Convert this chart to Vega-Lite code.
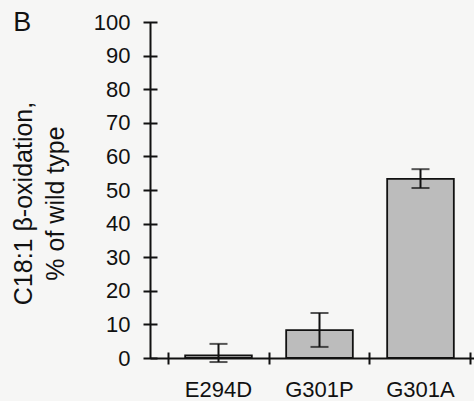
{
  "$schema": "https://vega.github.io/schema/vega-lite/v6.json",
  "autosize": {"type": "none"},
  "padding": {"left": 150, "top": 22, "right": 0, "bottom": 43},
  "width": 324,
  "height": 336,
  "background": "#f6f6f5",
  "title": {"text": "B", "anchor": "start", "frame": "bounds", "fontSize": 27, "font": "Liberation Sans", "fontWeight": "normal", "color": "#111", "baseline": "alphabetic", "offset": -47, "dx": 2},
  "config": {
    "view": {"stroke": null},
    "axis": {"grid": false, "domainColor": "#111", "tickColor": "#111", "labelColor": "#111", "titleColor": "#111", "labelFont": "Liberation Sans", "titleFont": "Liberation Sans", "domainWidth": 2, "tickWidth": 2}
  },
  "data": {"values": [
    {"mutant": "E294D", "value": 0.8, "lower": -1.2, "upper": 4.2},
    {"mutant": "G301P", "value": 8.3, "lower": 3.3, "upper": 13.4},
    {"mutant": "G301A", "value": 53.3, "lower": 50.6, "upper": 56.2}
  ]},
  "resolve": {"axis": {"x": "independent", "y": "independent"}},
  "layer": [
    {
      "mark": {"type": "bar", "width": {"band": 0.66}, "fill": "#bcbcbc", "stroke": "#111", "strokeWidth": 1.8},
      "encoding": {
        "x": {"field": "mutant", "type": "nominal", "sort": null,
              "scale": {"paddingInner": 0, "paddingOuter": 0.104, "align": 0.857},
              "axis": {"orient": "bottom", "title": null, "ticks": false, "labelAngle": 0, "labelFontSize": 22, "labelPadding": 21}},
        "y": {"field": "value", "type": "quantitative", "scale": {"domain": [0, 100], "nice": false},
              "axis": {"orient": "left", "values": [0,10,20,30,40,50,60,70,80,90,100], "ticks": false, "labelFontSize": 22, "labelPadding": 20,
                       "title": ["C18:1 β-oxidation,", "% of wild type"], "titleFontSize": 25, "titleFontWeight": "normal", "titlePadding": 25, "titleLineHeight": 32, "titleY": 181}}
      }
    },
    {
      "mark": {"type": "rule", "color": "#111", "strokeWidth": 2},
      "encoding": {
        "x": {"field": "mutant", "type": "nominal", "sort": null,
              "axis": {"orient": "bottom", "bandPosition": 0, "labels": false, "domain": false, "title": null, "tickSize": 12, "offset": -6}},
        "y": {"field": "lower", "type": "quantitative",
              "axis": {"orient": "left", "values": [0,10,20,30,40,50,60,70,80,90,100], "labels": false, "domain": false, "title": null, "tickSize": 14, "offset": -7}},
        "y2": {"field": "upper"}
      }
    },
    {
      "mark": {"type": "tick", "color": "#111", "thickness": 2, "size": 18},
      "encoding": {
        "x": {"field": "mutant", "type": "nominal", "sort": null,
              "axis": {"orient": "bottom", "bandPosition": 1, "values": ["G301A"], "labels": false, "domain": false, "title": null, "tickSize": 12, "offset": -6}},
        "y": {"field": "upper", "type": "quantitative", "axis": null}
      }
    },
    {
      "mark": {"type": "tick", "color": "#111", "thickness": 2, "size": 18},
      "encoding": {
        "x": {"field": "mutant", "type": "nominal", "sort": null, "axis": null},
        "y": {"field": "lower", "type": "quantitative", "axis": null}
      }
    }
  ]
}
